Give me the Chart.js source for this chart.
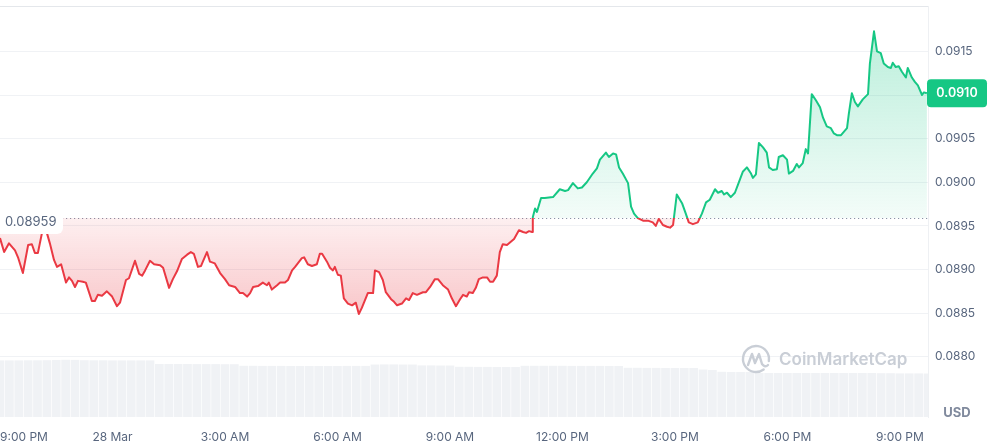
<!DOCTYPE html>
<html lang="en">
<head>
<meta charset="UTF-8">
<title>Price chart</title>
<script src="https://cdn.jsdelivr.net/npm/chart.js"></script>
<style>
  html, body { margin: 0; padding: 0; background: #ffffff; }
  .wrap { position: relative; width: 990px; height: 444px; }
</style>
</head>
<body>
<div class="wrap"><canvas id="priceChart"></canvas></div>
<script>
// hours since 27 Mar 9:00 PM
const hours = [
  0.00,0.11,0.24,0.40,0.48,0.61,0.75,0.85,0.93,1.01,1.12,1.25,1.33,1.44,1.52,1.63,1.76,1.84,1.92,2.00,
  2.08,2.21,2.29,2.45,2.53,2.61,2.72,2.85,2.99,3.12,3.20,3.36,3.44,3.60,3.71,3.79,3.87,4.00,4.11,4.27,
  4.35,4.51,4.61,4.72,4.85,4.99,
  5.09,5.17,5.28,5.36,5.41,5.52,5.60,5.73,5.87,6.00,6.11,6.27,6.40,6.48,6.59,6.67,6.75,6.88,7.01,7.12,
  7.17,7.25,7.39,7.47,7.60,7.68,7.79,7.87,8.05,8.11,8.21,8.32,8.45,8.53,8.59,8.72,8.80,8.88,8.93,9.01,
  9.09,9.17,9.28,9.39,9.49,9.57,9.65,9.81,9.89,
  9.95,10.00,10.11,10.21,10.29,10.43,10.51,10.59,10.72,10.83,10.91,11.01,11.12,11.28,11.36,11.47,11.60,11.68,11.81,11.95,
  12.05,12.16,12.27,12.35,12.45,12.51,12.61,12.69,12.77,12.88,12.99,13.07,13.15,13.25,13.33,13.41,13.52,13.60,13.71,13.84,
  13.95,14.03,14.11,14.19,
  14.21,14.27,14.32,14.43,14.53,14.75,
  14.93,15.07,15.15,15.28,15.41,15.52,15.65,15.81,15.92,16.00,16.16,16.24,16.35,16.43,16.51,16.61,16.75,16.83,16.91,17.01,
  17.15,17.28,17.41,17.49,17.57,17.68,17.79,17.87,17.95,
  18.05,18.19,18.29,18.37,18.48,18.61,18.72,18.83,18.93,19.07,19.15,19.25,19.31,19.39,19.49,19.60,19.68,19.81,19.92,20.03,
  20.08,20.16,
  20.24,20.35,20.45,20.51,20.61,20.72,20.77,20.88,20.99,21.04,21.15,21.25,21.31,21.41,21.49,21.55,
  21.65,21.76,21.87,21.95,22.05,22.16,22.24,22.32,22.43,22.59,22.64,22.72,22.80,22.88,23.01,23.15,
  23.20,23.31,23.39,23.49,23.57,23.68,23.76,23.81,23.89,23.97,24.05,24.16,24.21,24.32,24.40,24.48,24.59,24.64,24.72
];

const prices = [
  0.08936,0.08920,0.08930,0.08922,0.08914,0.08896,0.08928,0.08929,0.08919,0.08919,0.08942,0.08942,0.08930,0.08911,0.08903,0.08906,0.08885,0.08891,0.08887,0.08880,
  0.08887,0.08886,0.08885,0.08864,0.08864,0.08871,0.08870,0.08875,0.08869,0.08858,0.08862,0.08888,0.08890,0.08910,0.08895,0.08893,0.08899,0.08910,0.08906,0.08905,
  0.08902,0.08879,0.08889,0.08898,0.08912,0.08917,
  0.08920,0.08918,0.08903,0.08904,0.08909,0.08920,0.08909,0.08907,0.08896,0.08889,0.08882,0.08880,0.08873,0.08873,0.08869,0.08873,0.08880,0.08881,0.08885,0.08882,
  0.08885,0.08877,0.08882,0.08885,0.08885,0.08888,0.08899,0.08903,0.08913,0.08914,0.08906,0.08904,0.08906,0.08918,0.08918,0.08909,0.08902,0.08899,0.08903,0.08894,
  0.08893,0.08867,0.08861,0.08859,0.08862,0.08849,0.08856,0.08873,0.08873,
  0.08873,0.08899,0.08897,0.08888,0.08874,0.08866,0.08863,0.08859,0.08861,0.08867,0.08865,0.08873,0.08871,0.08874,0.08874,0.08880,0.08889,0.08889,0.08882,0.08877,
  0.08867,0.08858,0.08866,0.08871,0.08869,0.08874,0.08873,0.08879,0.08889,0.08891,0.08891,0.08886,0.08886,0.08893,0.08920,0.08929,0.08928,0.08931,0.08935,0.08945,
  0.08943,0.08942,0.08944,0.08943,
  0.08960,0.08970,0.08966,0.08982,0.08982,0.08983,
  0.08992,0.08990,0.08991,0.08999,0.08993,0.08994,0.09000,0.09010,0.09016,0.09026,0.09034,0.09029,0.09033,0.09032,0.09017,0.09010,0.08999,0.08972,0.08964,0.08959,
  0.08956,0.08956,0.08954,0.08950,0.08958,0.08951,0.08949,0.08948,0.08951,
  0.08986,0.08976,0.08964,0.08954,0.08952,0.08954,0.08964,0.08977,0.08980,0.08992,0.08988,0.08990,0.08986,0.08988,0.08983,0.08988,0.08997,0.09012,0.09017,0.09010,
  0.09005,0.09009,
  0.09045,0.09040,0.09034,0.09017,0.09014,0.09015,0.09029,0.09031,0.09026,0.09010,0.09013,0.09021,0.09017,0.09022,0.09038,0.09033,
  0.09101,0.09094,0.09086,0.09074,0.09064,0.09062,0.09056,0.09054,0.09054,0.09062,0.09079,0.09102,0.09092,0.09087,0.09095,0.09101,
  0.09136,0.09173,0.09150,0.09148,0.09136,0.09132,0.09131,0.09137,0.09132,0.09133,0.09127,0.09120,0.09131,0.09120,0.09115,0.09111,0.09100,0.09103,0.09102
];

// volume in millions USD, one bar every 15 minutes
const volumeM = [
  566,566,566,567,567,568,570,572,571,568,567,567,566,566,566,566,566,
  530,530,530,530,529,529,529,528,528,
  512,512,511,511,511,510,510,510,510,510,510,511,511,511,
  525,526,526,525,525,
  516,516,515,515,
  502,502,501,501,500,500,500,
  512,512,512,512,512,511,511,511,511,510,510,
  492,492,491,491,490,490,490,490,
  475,470,
  452,450,450,450,
  440,440,440,440,440,440,440,440,440,440,440,440,440,438,438,436,436,436,435
];

const tickHours = [0, 3, 6, 9, 12, 15, 18, 21, 24];
const tickLabels = ['9:00 PM', '28 Mar', '3:00 AM', '6:00 AM', '9:00 AM', '12:00 PM', '3:00 PM', '6:00 PM', '9:00 PM'];
const priceTicks = [0.0880, 0.0885, 0.0890, 0.0895, 0.0900, 0.0905, 0.0910, 0.0915];
const openPrice = 0.08959;
const endHour = 24.75;

const GREEN = '#16c784';
const RED = '#ea3943';
const TEXT = '#58667e';

Chart.defaults.font.family = 'Inter, "Noto Sans", sans-serif';

// vertical gradient that switches colour at the open price
function splitGradient(chart, top, midTop, midBottom, bottom) {
    const { ctx, chartArea, scales } = chart;
    if (!chartArea || !scales.y) return null;
    const y0 = scales.y.getPixelForValue(openPrice);
    let stop = (y0 - chartArea.top) / (chartArea.bottom - chartArea.top);
    stop = Math.min(Math.max(stop, 0), 1);
    const g = ctx.createLinearGradient(0, chartArea.top, 0, chartArea.bottom);
    g.addColorStop(0, top);
    g.addColorStop(stop, midTop);
    g.addColorStop(stop, midBottom);
    g.addColorStop(1, bottom);
    return g;
}

function roundRect(ctx, x, y, w, h, r) {
    ctx.beginPath();
    ctx.moveTo(x + r, y);
    ctx.arcTo(x + w, y, x + w, y + h, r);
    ctx.arcTo(x + w, y + h, x, y + h, r);
    ctx.arcTo(x, y + h, x, y, r);
    ctx.arcTo(x, y, x + w, y, r);
    ctx.closePath();
}

const decorations = {
    id: 'decorations',
    beforeDatasetsDraw(chart) {
        const { ctx, chartArea: a, scales } = chart;
        ctx.save();
        // top border
        ctx.strokeStyle = '#e4e7eb';
        ctx.lineWidth = 1;
        ctx.beginPath();
        ctx.moveTo(a.left, a.top + 0.5);
        ctx.lineTo(a.right, a.top + 0.5);
        ctx.stroke();
        // dotted open price line
        const y0 = Math.round(scales.y.getPixelForValue(openPrice)) + 0.5;
        ctx.strokeStyle = '#8a93a6';
        ctx.setLineDash([1.2, 2.8]);
        ctx.beginPath();
        ctx.moveTo(a.left + 62, y0);
        ctx.lineTo(a.right, y0);
        ctx.stroke();
        ctx.restore();
    },
    afterDatasetsDraw(chart) {
        const { ctx, chartArea: a, scales } = chart;
        const y0 = scales.y.getPixelForValue(openPrice);
        ctx.save();
        // open price tag
        ctx.fillStyle = '#ffffff';
        roundRect(ctx, a.left - 6, y0 - 6, 69, 22, 6);
        ctx.fill();
        ctx.fillStyle = TEXT;
        ctx.font = '13px Inter';
        ctx.textBaseline = 'middle';
        ctx.textAlign = 'left';
        ctx.fillText(openPrice.toString(), a.left + 5, y0 + 4);

        // watermark
        const wc = '#c9ced6';
        ctx.strokeStyle = wc;
        ctx.lineWidth = 2.4;
        ctx.lineCap = 'round';
        ctx.lineJoin = 'round';
        const cx = 756, cy = 359, r = 13;
        ctx.beginPath();
        ctx.arc(cx, cy, r, 0.3 * Math.PI, 2.05 * Math.PI);
        ctx.stroke();
        ctx.beginPath();
        ctx.moveTo(cx - 8, cy + 6);
        ctx.lineTo(cx - 4, cy - 5);
        ctx.lineTo(cx - 1, cy + 4);
        ctx.lineTo(cx + 3, cy - 5);
        ctx.lineTo(cx + 6, cy + 5);
        ctx.quadraticCurveTo(cx + 9, cy + 9, cx + 12, cy + 6);
        ctx.stroke();
        ctx.fillStyle = wc;
        ctx.font = '600 17px Inter';
        ctx.textBaseline = 'middle';
        ctx.fillText('CoinMarketCap', 779, 360);
        ctx.restore();
    },
    afterDraw(chart) {
        const { ctx, chartArea: a, scales } = chart;
        const last = prices[prices.length - 1];
        const yl = scales.y.getPixelForValue(last);
        ctx.save();
        ctx.fillStyle = GREEN;
        roundRect(ctx, a.right - 1, yl - 14, 60, 28, 4);
        ctx.fill();
        ctx.fillStyle = '#ffffff';
        ctx.font = '600 12.5px Inter';
        ctx.textAlign = 'center';
        ctx.textBaseline = 'middle';
        ctx.fillText(last.toFixed(4), a.right + 29, yl);
        ctx.fillStyle = '#808a9d';
        ctx.font = 'bold 13px Inter';
        ctx.fillText('USD', a.right + 29, 413);
        ctx.restore();
    }
};

const ctx = document.getElementById('priceChart').getContext('2d');
new Chart(ctx, {
    type: 'line',
    data: {
        datasets: [
            {
                label: 'Price',
                data: hours.map((h, i) => ({ x: h, y: prices[i] })),
                yAxisID: 'y',
                order: 0,
                borderWidth: 2,
                pointRadius: 0,
                tension: 0,
                borderJoinStyle: 'round',
                fill: { value: openPrice },
                borderColor: c => splitGradient(c.chart, GREEN, GREEN, RED, RED) || GREEN,
                backgroundColor: c => splitGradient(c.chart,
                    'rgba(22,199,132,0.32)', 'rgba(22,199,132,0.05)',
                    'rgba(234,57,67,0.08)', 'rgba(234,57,67,0.5)') || 'rgba(22,199,132,0.1)'
            },
            {
                type: 'bar',
                label: 'Volume',
                data: volumeM.map((v, i) => ({ x: i * 0.25, y: v })),
                yAxisID: 'vol',
                order: 1,
                backgroundColor: '#f0f2f5',
                barPercentage: 0.93,
                categoryPercentage: 1
            }
        ]
    },
    options: {
        responsive: true,
        maintainAspectRatio: false,
        animation: false,
        layout: { padding: { top: 6, left: 0, right: 0, bottom: 0 } },
        plugins: {
            legend: { display: false },
            tooltip: { enabled: false }
        },
        scales: {
            x: {
                type: 'linear',
                min: 0,
                max: endHour,
                offset: false,
                grid: { display: false, drawTicks: false },
                border: { display: false },
                afterBuildTicks: s => {
                    s.ticks = tickHours.map(v => ({ value: v })).concat([{ value: endHour }]);
                },
                afterFit: s => {
                    s.height = 27;
                    s.paddingLeft = 0;
                    s.paddingRight = 0;
                },
                ticks: {
                    autoSkip: false,
                    maxRotation: 0,
                    align: 'inner',
                    padding: 13,
                    color: TEXT,
                    font: { size: 12 },
                    callback: (v, i) => tickLabels[i] || ''
                }
            },
            y: {
                position: 'right',
                min: 0.08731,
                max: 0.09202,
                afterBuildTicks: s => {
                    s.ticks = priceTicks.map(v => ({ value: v }));
                },
                afterFit: s => {
                    s.width = 62;
                    s.paddingTop = 0;
                    s.paddingBottom = 0;
                },
                grid: { color: '#f0f2f5', drawTicks: false },
                border: { display: true, color: '#eef0f3' },
                ticks: {
                    padding: 7,
                    color: TEXT,
                    font: { size: 12 },
                    callback: v => v.toFixed(4)
                }
            },
            vol: {
                axis: 'y',
                display: false,
                min: 0,
                max: 4110
            }
        }
    },
    plugins: [decorations]
});
</script>
</body>
</html>
